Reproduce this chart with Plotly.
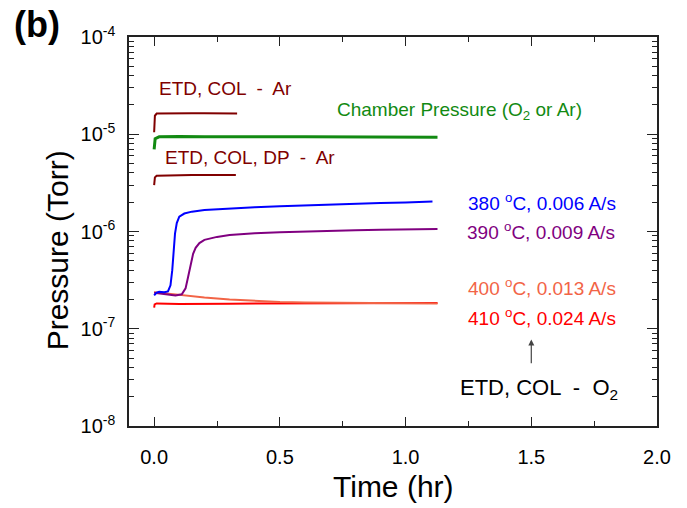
import plotly.graph_objects as go

# ---- data (time in hr, pressure in Torr) ----
t_ar1 = [0.0, 0.003, 0.01, 0.05, 0.1, 0.15, 0.2, 0.25, 0.3, 0.33]
p_ar1 = [1.05e-5, 1.55e-5, 1.63e-5, 1.64e-5, 1.63e-5, 1.64e-5, 1.64e-5, 1.63e-5, 1.63e-5, 1.63e-5]

t_ar2 = [0.0, 0.003, 0.01, 0.05, 0.1, 0.15, 0.2, 0.25, 0.3, 0.325]
p_ar2 = [3.0e-6, 3.6e-6, 3.75e-6, 3.78e-6, 3.8e-6, 3.8e-6, 3.82e-6, 3.8e-6, 3.82e-6, 3.8e-6]

t_ch = [0.0, 0.004, 0.02, 0.1, 0.2, 0.3, 0.4, 0.5, 0.6, 0.7, 0.8, 0.9, 1.0, 1.1, 1.127]
p_ch = [7.0e-6, 9.0e-6, 9.4e-6, 9.5e-6, 9.45e-6, 9.4e-6, 9.45e-6, 9.4e-6, 9.45e-6, 9.4e-6, 9.4e-6, 9.35e-6, 9.35e-6, 9.3e-6, 9.3e-6]

t_380 = [0.0, 0.01, 0.02, 0.04, 0.055, 0.065, 0.072, 0.078, 0.083, 0.09, 0.1, 0.12,
         0.15, 0.2, 0.3, 0.4, 0.5, 0.6, 0.7, 0.8, 0.9, 1.0, 1.1, 1.107]
p_380 = [2.2e-7, 2.35e-7, 2.4e-7, 2.38e-7, 2.42e-7, 2.8e-7, 4.0e-7, 6.5e-7, 9.5e-7, 1.22e-6, 1.42e-6, 1.53e-6,
         1.6e-6, 1.66e-6, 1.73e-6, 1.78e-6, 1.82e-6, 1.86e-6, 1.9e-6, 1.93e-6, 1.96e-6, 1.99e-6, 2.03e-6, 2.04e-6]

t_390 = [0.0, 0.03, 0.06, 0.085, 0.11, 0.125, 0.135, 0.145, 0.155, 0.165, 0.18, 0.2,
         0.25, 0.3, 0.4, 0.5, 0.6, 0.7, 0.8, 0.9, 1.0, 1.1, 1.127]
p_390 = [2.35e-7, 2.3e-7, 2.24e-7, 2.2e-7, 2.26e-7, 2.6e-7, 3.4e-7, 4.6e-7, 5.9e-7, 6.8e-7, 7.6e-7, 8.2e-7,
         8.8e-7, 9.2e-7, 9.6e-7, 9.8e-7, 1.0e-6, 1.02e-6, 1.03e-6, 1.04e-6, 1.05e-6, 1.06e-6, 1.06e-6]

t_400 = [0.0, 0.05, 0.1, 0.2, 0.3, 0.4, 0.5, 0.6, 0.8, 1.0, 1.127]
p_400 = [2.38e-7, 2.3e-7, 2.22e-7, 2.1e-7, 2.0e-7, 1.93e-7, 1.88e-7, 1.86e-7, 1.84e-7, 1.83e-7, 1.82e-7]

t_410 = [0.0, 0.002, 0.01, 0.1, 0.3, 0.5, 0.7, 0.9, 1.127]
p_410 = [1.65e-7, 1.78e-7, 1.82e-7, 1.8e-7, 1.81e-7, 1.81e-7, 1.82e-7, 1.83e-7, 1.84e-7]

y_tick_exps = [-8, -7, -6, -5, -4]
x_ticks = [0.0, 0.5, 1.0, 1.5, 2.0]

DARKRED = "#800000"
GREEN = "#128a12"
BLUE = "#0000ff"
PURPLE = "#800080"
ORANGE = "#f26446"
RED = "#ff0000"

FONT = "Arial, Liberation Sans, sans-serif"

fig = go.Figure()
series = [
    (t_ar1, p_ar1, DARKRED, 2),
    (t_ar2, p_ar2, DARKRED, 2),
    (t_ch, p_ch, GREEN, 3),
    (t_410, p_410, RED, 2),
    (t_400, p_400, ORANGE, 2),
    (t_390, p_390, PURPLE, 2),
    (t_380, p_380, BLUE, 2),
]
for tx, py, col, w in series:
    fig.add_trace(go.Scatter(x=tx, y=py, mode="lines",
                             line=dict(color=col, width=w), showlegend=False))

minor_y = [m * 10.0 ** k for k in range(-8, -4) for m in range(2, 10)]

fig.update_xaxes(
    range=[-0.1, 2.0], tickvals=x_ticks, ticktext=[f"{v:.1f}" for v in x_ticks],
    ticks="inside", ticklen=9, tickwidth=1.2, tickcolor="#222",
    minor=dict(dtick=0.25, tick0=0, ticks="inside", ticklen=5, tickwidth=1.2, tickcolor="#222"),
    showline=True, linecolor="#222", linewidth=1.5, mirror="allticks",
    showgrid=False, zeroline=False,
    tickfont=dict(family=FONT, size=20, color="black"), ticklabelstandoff=12,
)
fig.update_yaxes(
    type="log", range=[-8, -4],
    tickvals=[10.0 ** e for e in y_tick_exps],
    ticktext=[f"10<sup>{e}</sup>" for e in y_tick_exps],
    ticks="inside", ticklen=10, tickwidth=1.2, tickcolor="#222",
    minor=dict(tickmode="array", tickvals=minor_y, ticks="inside", ticklen=5, tickwidth=1.2, tickcolor="#222"),
    showline=True, linecolor="#222", linewidth=1.5, mirror="allticks",
    showgrid=False, zeroline=False,
    tickfont=dict(family=FONT, size=20, color="black"), ticklabelstandoff=8,
)

# axis titles
fig.add_annotation(x=0.5, y=-0.155, xref="paper", yref="paper", text="Time (hr)",
                   showarrow=False, xanchor="center", yanchor="middle",
                   font=dict(family=FONT, size=30, color="black"))
fig.add_annotation(x=-0.136, y=0.452, xref="paper", yref="paper", text="Pressure (Torr)",
                   textangle=-90, showarrow=False, xanchor="center", yanchor="middle",
                   font=dict(family=FONT, size=30, color="black"))

def label(x, y, text, color, size=19):
    fig.add_annotation(x=x, y=y, xref="x", yref="y", text=text, showarrow=False,
                       xanchor="left", yanchor="middle",
                       font=dict(family=FONT, size=size, color=color))

label(0.012, -4.53, "ETD, COL  -  Ar", DARKRED)
label(0.718, -4.765, "Chamber Pressure (O<sub>2</sub> or Ar)", GREEN)
label(0.034, -5.239, "ETD, COL, DP  -  Ar", DARKRED)
label(1.242, -5.695, "380 <sup>o</sup>C, 0.006 A/s", BLUE)
label(1.236, -5.998, "390 <sup>o</sup>C, 0.009 A/s", PURPLE)
label(1.24, -6.57, "400 <sup>o</sup>C, 0.013 A/s", ORANGE)
label(1.242, -6.882, "410 <sup>o</sup>C, 0.024 A/s", RED)
label(1.207, -7.615, "ETD, COL  -  O<sub>2</sub>", "black", size=22)

fig.add_annotation(x=1.5, y=-7.11, ax=1.5, ay=-7.37, xref="x", yref="y", axref="x", ayref="y",
                   text="", showarrow=True, arrowhead=2, arrowsize=1, arrowwidth=1.2,
                   arrowcolor="#444")

fig.add_annotation(x=-0.222, y=1.09, xref="paper", yref="paper", text="<b>(b)</b>",
                   showarrow=False, xanchor="left", yanchor="top",
                   font=dict(family=FONT, size=36, color="black"))

fig.update_layout(
    width=687, height=508,
    margin=dict(l=129, r=30, t=37, b=82),
    plot_bgcolor="white", paper_bgcolor="white",
    font=dict(family=FONT),
)

fig.write_html("out.html")
